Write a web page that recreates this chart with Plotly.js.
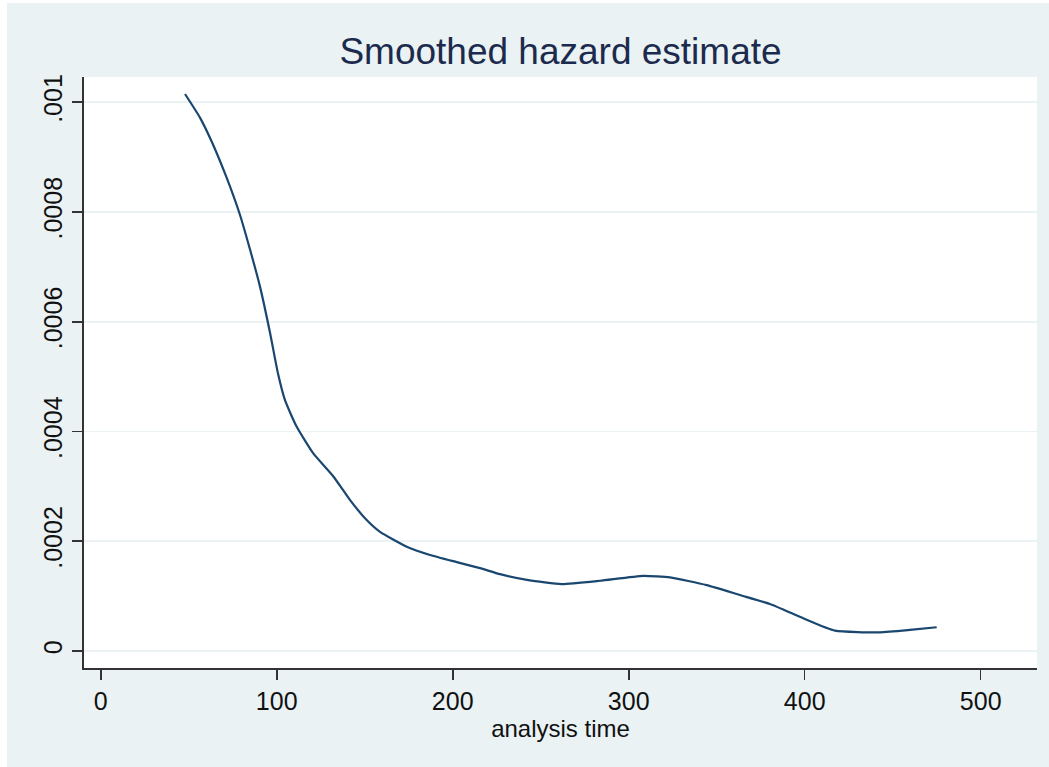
<!DOCTYPE html>
<html>
<head>
<meta charset="utf-8">
<script src="https://cdn.plot.ly/plotly-3.0.1.min.js"></script>
<style>
html,body{margin:0;padding:0;background:#ffffff;}
#chart{position:absolute;left:7px;top:3px;width:1042px;height:764px;}
</style>
</head>
<body>
<div id="chart"></div>
<script>
const analysisTime = [47.9, 56.4, 63.1, 71.6, 79.1, 84.8, 90.5, 96.2, 100.7, 104.7, 111.3, 120.8, 132.2, 141.7, 151.0, 158.7, 173.9, 187.1, 202.3, 215.5, 226.9, 243.0, 261.9, 283.7, 308.3, 323.5, 344.3, 363.2, 380.3, 399.2, 417.2, 442.8, 459.8, 475.0];
const hazard = [0.001015, 0.000972, 0.000928, 0.000862, 0.000795, 0.000732, 0.000664, 0.000580, 0.000506, 0.000457, 0.000409, 0.000360, 0.000318, 0.000275, 0.000239, 0.000217, 0.000190, 0.000175, 0.000162, 0.000151, 0.000140, 0.000129, 0.000122, 0.000128, 0.000137, 0.000134, 0.000120, 0.000102, 0.0000856, 0.0000595, 0.0000370, 0.0000340, 0.0000383, 0.0000432];
const yTickVals = [0, 0.0002, 0.0004, 0.0006, 0.0008, 0.001];
const yTickText = ['0', '.0002', '.0004', '.0006', '.0008', '.001'];
const xTickVals = [0, 100, 200, 300, 400, 500];

const trace = {
  x: analysisTime,
  y: hazard,
  type: 'scatter',
  mode: 'lines',
  line: {color: '#1a476f', width: 2.2, shape: 'spline', smoothing: 0.5},
  hoverinfo: 'x+y'
};

const font = 'Liberation Sans, Arial, Helvetica, sans-serif';
const layout = {
  width: 1042,
  height: 764,
  paper_bgcolor: '#eaf2f3',
  plot_bgcolor: '#ffffff',
  showlegend: false,
  margin: {l: 77, r: 12, t: 74, b: 99},
  title: {
    text: 'Smoothed hazard estimate',
    font: {family: font, size: 37, color: '#1c2b4d'},
    x: 0.5, xref: 'paper', xanchor: 'center',
    y: 1 - 48/764, yanchor: 'middle'
  },
  xaxis: {
    range: [-9.5, 532],
    tickvals: xTickVals,
    ticktext: xTickVals.map(String),
    showgrid: false,
    zeroline: false,
    showline: true,
    linecolor: '#333333',
    linewidth: 1.6,
    ticks: 'outside',
    ticklen: 10,
    tickwidth: 1.6,
    tickcolor: '#333333',
    tickfont: {family: font, size: 25, color: '#111111'},
    title: {text: 'analysis time', font: {family: font, size: 24, color: '#111111'}, standoff: 2},
    fixedrange: true
  },
  yaxis: {
    range: [-0.000031, 0.001046],
    tickvals: yTickVals,
    ticktext: yTickText,
    tickangle: -90,
    showgrid: true,
    gridcolor: '#eaf2f3',
    gridwidth: 1.6,
    zeroline: false,
    showline: true,
    linecolor: '#333333',
    linewidth: 1.6,
    ticks: 'outside',
    ticklen: 10,
    tickwidth: 1.6,
    tickcolor: '#333333',
    tickfont: {family: font, size: 25, color: '#111111'},
    fixedrange: true
  }
};

Plotly.newPlot('chart', [trace], layout, {displayModeBar: false, staticPlot: true});
</script>
</body>
</html>
